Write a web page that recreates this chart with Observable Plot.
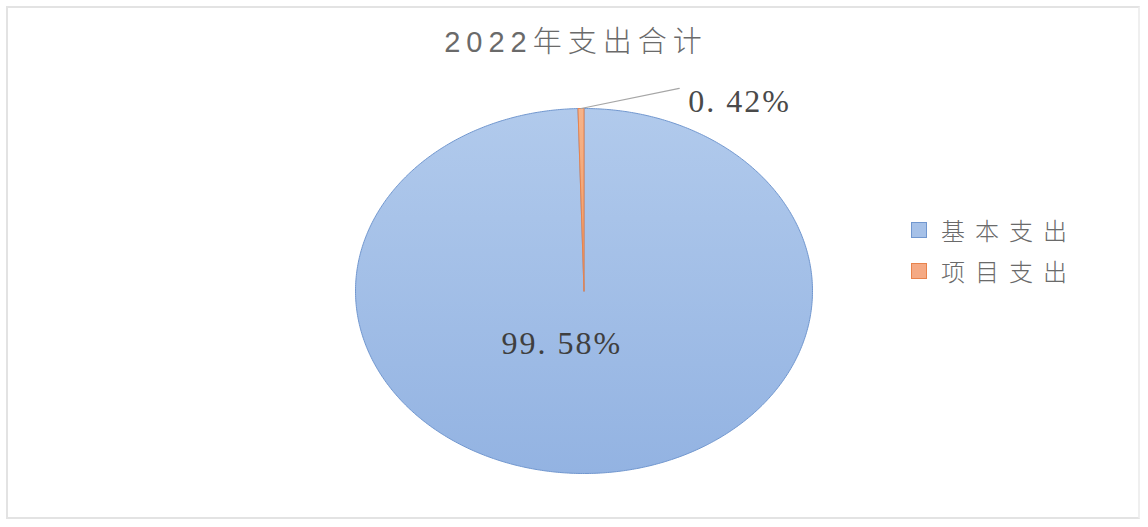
<!DOCTYPE html>
<html>
<head>
<meta charset="utf-8">
<script src="https://cdn.jsdelivr.net/npm/d3@7"></script>
<script src="https://cdn.jsdelivr.net/npm/@observablehq/plot@0.6"></script>
<style>
  html, body { margin: 0; padding: 0; background: #fff; }
  #wrap { position: relative; width: 1148px; height: 527px; overflow: hidden; }
  #frame { position: absolute; left: 6px; top: 6px; width: 1134px; height: 513px; border: 2px solid #e3e3e3; border-right-color:#efefef; box-sizing: border-box; }
  #title { position: absolute; left: 0; width: 1152px; top: 18px; text-align: center; font-family: "Liberation Sans", "Noto Sans CJK SC", sans-serif; font-size: 29px; letter-spacing: 6px; color: #6a6a6a; font-weight: 300; }
  #legend { position: absolute; left: 911px; top: 209px; font-family: "Noto Sans CJK SC", sans-serif; font-size: 24px; color: #6a6a6a; letter-spacing: 10px; font-weight: 300; }
  .item { display: flex; align-items: center; height: 41px; }
  .sw { width: 16px; height: 16px; box-sizing: border-box; margin-right: 14px; }
  #chart { position: absolute; left: 0; top: 0; }
</style>
</head>
<body>
<div id="wrap">
  <div id="frame"></div>
  <div id="chart"></div>
  <div id="title"></div>
  <div id="legend"></div>
</div>
<script>
const title = "2022年支出合计";
const categories = ["基本支出", "项目支出"];
const values = [99.58, 0.42];
const labels = ["99. 58%", "0. 42%"];
const fills = ["url(#gBlue)", "url(#gOrange)"];
const strokes = ["#7197cf", "#e8834c"];
const swatchFill = ["#a6c1e8", "#f5aa84"];

document.getElementById("title").textContent = title;
const leg = document.getElementById("legend");
categories.forEach((c, i) => {
  const d = document.createElement("div");
  d.className = "item";
  d.innerHTML = `<div class="sw" style="background:${swatchFill[i]};border:1px solid ${strokes[i]}"></div><span>${c}</span>`;
  leg.appendChild(d);
});

// build slices: angles clockwise from 12 o'clock
const total = d3.sum(values);
let acc = 0;
const slices = categories.map((c, i) => {
  const a0 = acc / total * 2 * Math.PI;
  acc += values[i];
  const a1 = acc / total * 2 * Math.PI;
  const n = Math.max(2, Math.ceil((a1 - a0) / 0.01));
  const pts = [{x: 0, y: 0}];
  for (let k = 0; k <= n; k++) {
    const a = a0 + (a1 - a0) * k / n;
    pts.push({x: Math.sin(a), y: Math.cos(a)});
  }
  pts.push({x: 0, y: 0});
  return {name: c, a0, a1, mid: (a0 + a1) / 2, pts};
});

const big = slices[0], small = slices[1];
const inside = [{x: Math.sin(big.mid) * 0.29, y: Math.cos(big.mid) * 0.29, t: labels[0]}];
const edge = {x: Math.sin(small.mid), y: Math.cos(small.mid)};
const elbow = {x: edge.x + 0.43, y: edge.y + 0.11};
const leader = [edge, elbow];
const outside = [{x: elbow.x, y: elbow.y, t: labels[1]}];

const plot = Plot.plot({
  width: 1148,
  height: 527,
  marginLeft: 355,
  marginRight: 1148 - 812,
  marginTop: 108,
  marginBottom: 527 - 473,
  x: {domain: [-1, 1], axis: null},
  y: {domain: [-1, 1], axis: null},
  style: {background: "transparent", overflow: "visible"},
  marks: [
    ...slices.map((s, i) => Plot.line(s.pts, {x: "x", y: "y", fill: fills[i], stroke: strokes[i], strokeWidth: 1, curve: "linear"})),
    Plot.line(leader, {x: "x", y: "y", stroke: "#a6a6a6", strokeWidth: 1.2}),
    Plot.text(inside, {x: "x", y: "y", text: "t", dx: -23, fontSize: 32, fill: "#3f3f3f", fontFamily: "Liberation Serif, DejaVu Serif, serif"}),
    Plot.text(outside, {x: "x", y: "y", text: "t", dx: 9, dy: 13, textAnchor: "start", fontSize: 32, fill: "#4a4a4a", fontFamily: "Liberation Serif, DejaVu Serif, serif"})
  ]
});

const svg = d3.select(plot);
svg.selectAll("text").style("letter-spacing", "2px");
const defs = svg.insert("defs", ":first-child");
const gb = defs.append("linearGradient").attr("id", "gBlue").attr("x1", 0).attr("y1", 0).attr("x2", 0).attr("y2", 1);
gb.append("stop").attr("offset", "0%").attr("stop-color", "#b1caec");
gb.append("stop").attr("offset", "100%").attr("stop-color", "#93b3e2");
const go = defs.append("linearGradient").attr("id", "gOrange").attr("x1", 0).attr("y1", 0).attr("x2", 0).attr("y2", 1);
go.append("stop").attr("offset", "0%").attr("stop-color", "#f6b38a");
go.append("stop").attr("offset", "100%").attr("stop-color", "#ef9a64");

document.getElementById("chart").appendChild(plot);
</script>
</body>
</html>
